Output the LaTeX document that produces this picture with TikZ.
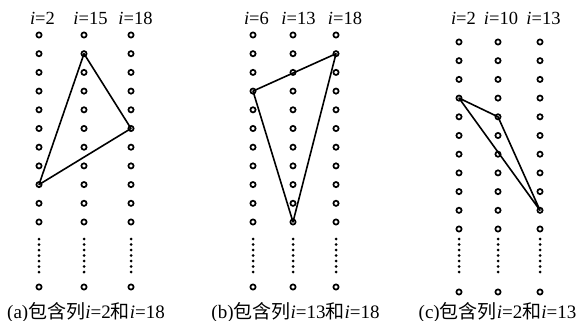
\documentclass[tikz,border=0pt]{standalone}
\usepackage{fontspec}
\setmainfont{Liberation Serif}
\newfontfamily\cjk{Noto Sans CJK SC}
\usetikzlibrary{positioning}

\begin{document}
\begin{tikzpicture}[x=1pt,y=-1pt,
  ring/.style={circle,draw,line width=1.7pt,inner sep=0pt,minimum size=5.2pt},
  edge/.style={line width=1.6pt,line join=round},
  collabel/.style={anchor=base,inner sep=0pt,font=\fontsize{18.5}{20}\selectfont},
  caption/.style={anchor=base,inner sep=0pt,font=\fontsize{19}{21}\selectfont}]
  \useasboundingbox (0,0) rectangle (582,321);
  % (a) columns i=2, 15, 18
  \foreach \x/\lx/\t [count=\c] in {39/42.5/2,84/90.5/15,131/135.5/18} {
    \node[collabel] (al\c) at (\lx,25) {\textit{i}=\t};
    \foreach \r in {1,...,11}
      \node[ring] (a\c-\r) at (\x,{35+18.7*(\r-1)}) {};
    \foreach \k in {0,...,6}
      \fill (\x,{239+5.5*\k}) circle (1.5pt);
    \node[ring] (a\c-12) at (\x,287) {};
  }
  \draw[edge] (a2-2.center) -- (a3-6.center) -- (a1-9.center) -- cycle;
  \node[caption] (acap) at (86,318) {(a){\cjk 包含列}\textit{i}=2{\cjk 和}\textit{i}=18};
  % (b) columns i=6, 13, 18
  \foreach \x/\lx/\t [count=\c] in {253/256.5/6,293/298.5/13,336/345/18} {
    \node[collabel] (bl\c) at (\lx,25) {\textit{i}=\t};
    \foreach \r in {1,...,11}
      \node[ring] (b\c-\r) at (\x,{35+18.7*(\r-1)}) {};
    \foreach \k in {0,...,6}
      \fill (\x,{239+5.5*\k}) circle (1.5pt);
    \node[ring] (b\c-12) at (\x,287) {};
  }
  \draw[edge] (b1-4.center) -- (b3-2.center) -- (b2-11.center) -- cycle;
  \node[caption] (bcap) at (295.5,318) {(b){\cjk 包含列}\textit{i}=13{\cjk 和}\textit{i}=18};
  % (c) columns i=2, 10, 13
  \foreach \x/\lx/\t [count=\c] in {459/463.5/2,498/501/10,540/543.5/13} {
    \node[collabel] (cl\c) at (\lx,25) {\textit{i}=\t};
    \foreach \r in {1,...,11}
      \node[ring] (c\c-\r) at (\x,{42+18.7*(\r-1)}) {};
    \foreach \k in {0,...,6}
      \fill (\x,{239+5.5*\k}) circle (1.5pt);
    \node[ring] (c\c-12) at (\x,292) {};
  }
  \draw[edge] (c1-4.center) -- (c2-5.center) -- (c3-10.center) -- cycle;
  \node[caption] (ccap) at (497.5,318) {(c){\cjk 包含列}\textit{i}=2{\cjk 和}\textit{i}=13};
\end{tikzpicture}
\end{document}
